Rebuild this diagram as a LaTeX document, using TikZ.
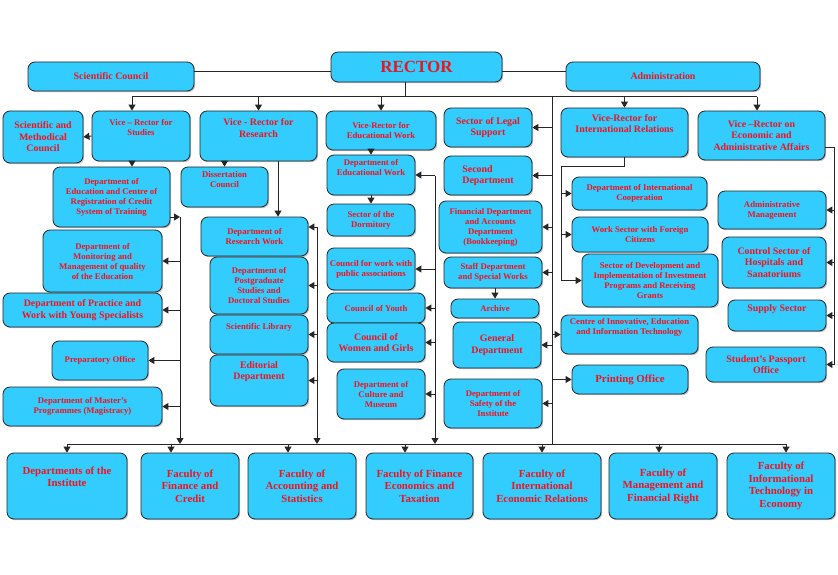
\documentclass[tikz,border=0pt]{standalone}
\usepackage{fontspec}
\setmainfont{Liberation Serif}
\usetikzlibrary{arrows.meta, shadows}
\definecolor{boxcyan}{HTML}{33CCFF}
\definecolor{textred}{HTML}{F0141E}

\begin{document}
\begin{tikzpicture}[
    x=1pt, y=-1pt,
    box/.style={rectangle, draw=black!85, fill=boxcyan, rounded corners=7pt, line width=0.8pt, align=center, text=textred, inner sep=1pt, drop shadow={shadow xshift=1.2pt, shadow yshift=-1.2pt, opacity=0.5}},
    sm/.style={box, font=\bfseries\fontsize{8.7}{10}\selectfont},
    md/.style={box, font=\bfseries\fontsize{9.9}{11.5}\selectfont},
    lg/.style={box, font=\bfseries\fontsize{10.8}{12.5}\selectfont},
    link/.style={draw=black!85, line width=1pt},
    arrow/.style={link, -{Triangle[length=6pt, width=7pt]}}
]
\useasboundingbox (0,0) rectangle (838,575);

% Top level
\node[md, minimum width=166pt, minimum height=29pt] (scicouncil) at (111,76.5) {Scientific Council};
\node[box, font=\bfseries\fontsize{17}{20}\selectfont, minimum width=171pt, minimum height=30pt] (rector) at (416.5,67) {RECTOR};
\node[md, minimum width=194pt, minimum height=29pt] (admin) at (663,76.5) {Administration};

% Vice-rectors
\node[md, minimum width=80pt, minimum height=52pt] (smcouncil) at (43,137) {Scientific and\\Methodical\\Council};
\node[sm, minimum width=98pt, minimum height=50pt] (vrstudies) at (141,136) {Vice -- Rector for\\Studies\\[8pt]};
\node[md, minimum width=117pt, minimum height=50pt] (vrresearch) at (258.5,136) {Vice - Rector for\\Research\\[4pt]};
\node[sm, minimum width=110pt, minimum height=39pt] (vreduc) at (381,130.5) {Vice-Rector for\\Educational Work};
\node[md, minimum width=88pt, minimum height=39pt] (legal) at (488,127.5) {Sector of Legal\\Support};
\node[md, minimum width=127pt, minimum height=49pt] (vrintl) at (624.5,132.5) {Vice-Rector for\\International Relations\\[6pt]};
\node[md, minimum width=127pt, minimum height=49pt] (vrecon) at (761.5,135.5) {Vice --Rector on\\Economic and\\Administrative Affairs};

% Studies
\node[sm, minimum width=117pt, minimum height=60pt] (depedu) at (111.5,197) {Department of\\Education and Centre of\\Registration of Credit\\System of Training};
\node[sm, minimum width=119pt, minimum height=62pt] (depmon) at (102.5,261) {Department of\\Monitoring and\\Management of quality\\of the Education};
\node[md, minimum width=159pt, minimum height=34pt] (deppract) at (82.5,310) {Department of Practice and\\Work with Young Specialists};
\node[sm, minimum width=96pt, minimum height=39pt] (prep) at (100,360.5) {Preparatory Office};
\node[sm, minimum width=159pt, minimum height=39pt] (master) at (82.5,406.5) {Department of Master's\\Programmes (Magistracy)};

% Research
\node[sm, minimum width=87pt, minimum height=40pt] (dissert) at (224.5,187) {Dissertation\\Council\\[6pt]};
\node[sm, minimum width=107pt, minimum height=39pt] (depresearch) at (254.5,236.5) {Department of\\Research Work};
\node[sm, minimum width=98pt, minimum height=57pt] (postgrad) at (259,285.5) {Department of\\Postgraduate\\Studies and\\Doctoral Studies};
\node[sm, minimum width=98pt, minimum height=39pt] (scilib) at (259,334.5) {Scientific Library\\[6pt]};
\node[md, minimum width=98pt, minimum height=51pt] (editorial) at (259,380.5) {Editorial\\Department\\[8pt]};

% Educational work
\node[sm, minimum width=88pt, minimum height=40pt] (depeduwork) at (371,175) {Department of\\Educational Work\\[6pt]};
\node[sm, minimum width=88pt, minimum height=32pt] (dormitory) at (371,220) {Sector of the\\Dormitory};
\node[sm, minimum width=88pt, minimum height=42pt] (public) at (371,269) {Council for work with\\public associations};
\node[sm, minimum width=98pt, minimum height=30pt] (youth) at (376,308) {Council of Youth};
\node[md, minimum width=98pt, minimum height=39pt] (women) at (376,342.5) {Council of\\Women and Girls};
\node[sm, minimum width=88pt, minimum height=50pt] (culture) at (381,394) {Department of\\Culture and\\Museum};

% Rector's sectors
\node[md, align=left, minimum width=88pt, minimum height=39pt] (second) at (488,175.5) {Second\\Department};
\node[sm, minimum width=103pt, minimum height=52pt] (financial) at (490.5,227) {Financial Department\\and Accounts\\Department\\(Bookkeeping)};
\node[sm, minimum width=98pt, minimum height=31pt] (staff) at (493,272.5) {Staff Department\\and Special Works};
\node[sm, minimum width=88pt, minimum height=19pt] (archive) at (495,308.5) {Archive};
\node[md, minimum width=88pt, minimum height=46pt] (general) at (497,345) {General\\Department};
\node[sm, minimum width=98pt, minimum height=49pt] (safety) at (493,403.5) {Department of\\Safety of the\\Institute};

% International relations
\node[sm, minimum width=135pt, minimum height=33pt] (intlcoop) at (639.5,193.5) {Department of International\\Cooperation};
\node[sm, minimum width=136pt, minimum height=35pt] (foreign) at (640,234.5) {Work Sector with Foreign\\Citizens};
\node[sm, minimum width=136pt, minimum height=53pt] (develop) at (650,280.5) {Sector of Development and\\Implementation of Investment\\Programs and Receiving\\Grants};
\node[sm, minimum width=137pt, minimum height=39pt] (centre) at (629.5,334.5) {Centre of Innovative, Education\\and Information Technology\\[6pt]};
\node[lg, minimum width=116pt, minimum height=29pt] (printing) at (630,379.5) {Printing Office};

% Economic affairs
\node[sm, minimum width=108pt, minimum height=38pt] (adminmgmt) at (772,210) {Administrative\\Management};
\node[md, minimum width=104pt, minimum height=51pt] (hospitals) at (774,262.5) {Control Sector of\\Hospitals and\\Sanatoriums};
\node[md, minimum width=98pt, minimum height=31pt] (supply) at (777,315.5) {Supply Sector\\[4pt]};
\node[md, minimum width=120pt, minimum height=35pt] (passport) at (766,364.5) {Student's Passport\\Office};

% Faculties
\node[lg, minimum width=120pt, minimum height=66pt] (deptinst) at (67,486) {Departments of the\\Institute\\[6pt]};
\node[lg, minimum width=98pt, minimum height=66pt] (facfin) at (190,486) {Faculty of\\Finance and\\Credit};
\node[lg, minimum width=108pt, minimum height=66pt] (facacc) at (302,486) {Faculty of\\Accounting and\\Statistics};
\node[lg, minimum width=107pt, minimum height=66pt] (factax) at (419.5,486) {Faculty of Finance\\Economics and\\Taxation};
\node[lg, minimum width=118pt, minimum height=66pt] (facintl) at (542,486) {Faculty of\\International\\Economic Relations};
\node[lg, minimum width=108pt, minimum height=66pt] (facmgmt) at (663,486) {Faculty of\\Management and\\Financial Right};
\node[lg, minimum width=108pt, minimum height=66pt] (facit) at (781,486) {Faculty of\\Informational\\Technology in\\Economy};

% Top links
\draw[link] (scicouncil.east |- 0,72) -- (rector.west |- 0,72);
\draw[link] (rector.east |- 0,72) -- (admin.west |- 0,72);
\coordinate (topL) at (132,97);
\coordinate (topM) at (405,97);
\coordinate (topR) at (757,97);
\draw[link] (rector.south -| topM) -- (topM);
\draw[link] (topL) -- (topR);
\draw[arrow] (topL) -- (topL |- vrstudies.north);
\draw[arrow] (vrresearch.north |- topL) -- (vrresearch.north);
\draw[arrow] (vreduc.north |- topL) -- (vreduc.north);
\draw[arrow] (vrintl.north |- topL) -- (vrintl.north);
\draw[arrow] (topR) -- (topR |- vrecon.north);
\coordinate (midTop) at (552,97);
\coordinate (midBot) at (552,444);
\draw[link] (midTop) -- (midBot);

% Studies
\draw[arrow] (vrstudies.west) -- (smcouncil.east);
\draw[arrow] (topL |- vrstudies.south) -- (topL |- depedu.north);
\coordinate (vsTop) at (180,217);
\coordinate (vsBot) at (180,444);
\draw[arrow] (depedu.east |- vsTop) -- (vsTop);
\draw[arrow] (vsTop) -- (vsBot);
\foreach \n in {depmon, deppract, prep, master}
    \draw[arrow] (vsTop |- \n.east) -- (\n.east);

% Research
\draw[arrow] (dissert.north |- vrresearch.south) -- (dissert.north);
\coordinate (rw) at (278,0);
\draw[arrow] (rw |- vrresearch.south) -- (rw |- depresearch.north);
\coordinate (vrTop) at (317,227);
\coordinate (vrBot) at (317,444);
\draw[arrow] (vrTop) -- (vrBot);
\draw[arrow] (vrTop) -- (vrTop -| depresearch.east);
\foreach \n in {postgrad, scilib, editorial}
    \draw[arrow] (vrTop |- \n.east) -- (\n.east);

% Educational work
\draw[arrow] (depeduwork.north |- vreduc.south) -- (depeduwork.north);
\draw[arrow] (depeduwork) -- (dormitory);
\coordinate (veTop) at (435,176);
\coordinate (veBot) at (435,444);
\draw[arrow] (veTop) -- (veBot);
\foreach \n in {depeduwork, public, youth, women, culture}
    \draw[arrow] (veTop |- \n.east) -- (\n.east);

% Rector's sectors
\foreach \n in {legal, second, financial, staff, general, safety}
    \draw[arrow] (midTop |- \n.east) -- (\n.east);
\draw[arrow] (archive.north |- staff.south) -- (archive.north);
\foreach \n in {centre, printing}
    \draw[arrow] (midTop |- \n.west) -- (\n.west);

% International relations
\coordinate (viTop) at (561,167);
\draw[link] (vrintl.south) -- (vrintl.south |- viTop) -- (viTop) -- (viTop |- develop.west);
\foreach \n in {intlcoop, foreign, develop}
    \draw[arrow] (viTop |- \n.west) -- (\n.west);

% Economic affairs
\coordinate (vcTop) at (834,148);
\draw[link] (vrecon.east |- vcTop) -- (vcTop) -- (vcTop |- passport.east);
\foreach \n in {adminmgmt, hospitals, supply, passport}
    \draw[arrow] (vcTop |- \n.east) -- (\n.east);

% Faculties
\coordinate (botL) at (67,444);
\coordinate (botR) at (786,444);
\draw[link] (botL) -- (botR);
\foreach \n/\x in {deptinst/67, facfin/171, facacc/288, factax/405, facintl/542, facmgmt/659, facit/786}
    \draw[arrow] (\x,444) -- (\x,0 |- \n.north);

\end{tikzpicture}
\end{document}
